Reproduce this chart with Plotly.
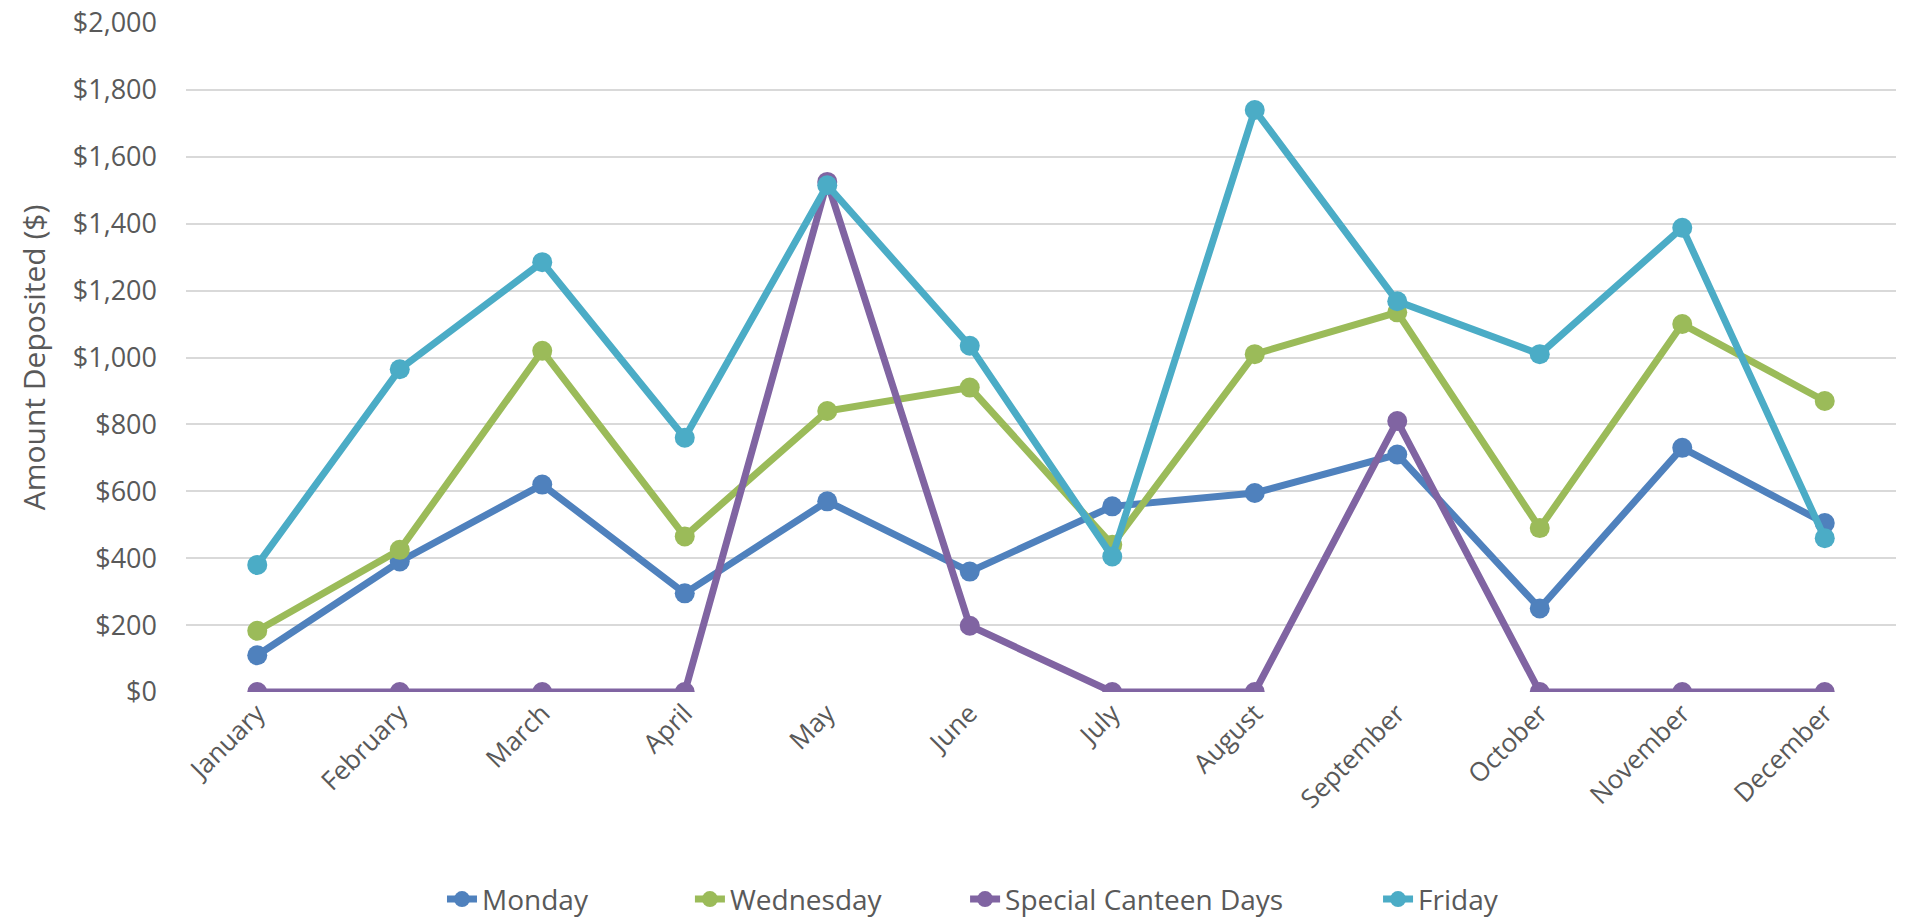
import plotly.graph_objects as go

months = ["January", "February", "March", "April", "May", "June", "July",
          "August", "September", "October", "November", "December"]
monday = [110, 390, 620, 295, 570, 360, 555, 595, 710, 250, 730, 505]
wednesday = [183, 425, 1020, 465, 840, 910, 440, 1010, 1135, 490, 1100, 870]
special = [0, 0, 0, 0, 1525, 198, 0, 0, 810, 0, 0, 0]
friday = [380, 965, 1285, 760, 1515, 1035, 405, 1740, 1168, 1010, 1388, 460]

series = [
    ("Monday", monday, "#4F81BD"),
    ("Wednesday", wednesday, "#9BBB59"),
    ("Special Canteen Days", special, "#8064A2"),
    ("Friday", friday, "#4BACC6"),
]
legend_ids = ["legend", "legend2", "legend3", "legend4"]
legend_x = [0.1497, 0.2947, 0.4556, 0.6971]

fig = go.Figure()
for (name, vals, col), lid in zip(series, legend_ids):
    fig.add_trace(go.Scatter(
        x=months, y=vals, name=name, mode="lines+markers",
        line=dict(color=col, width=7),
        marker=dict(color=col, size=20),
        legend=lid,
    ))

font_family = "Open Sans, DejaVu Sans, sans-serif"
legend_common = dict(orientation="h", xanchor="left", y=-0.31, yanchor="middle",
                     font=dict(size=28, color="#595959"), bgcolor="rgba(0,0,0,0)")
fig.update_layout(
    width=1912, height=920,
    paper_bgcolor="white", plot_bgcolor="white",
    margin=dict(l=186, r=16, t=23, b=228, autoexpand=False),
    font=dict(family=font_family, color="#595959", size=26),
    showlegend=True,
    xaxis=dict(
        type="category", range=[-0.5, 11.5], tickangle=-45, automargin=False,
        showgrid=False, showline=False, zeroline=False, ticks="",
        tickfont=dict(size=26, color="#595959"),
    ),
    yaxis=dict(
        range=[0, 2000], dtick=200, tickprefix="$", tickformat=",", automargin=False,
        showgrid=True, gridcolor="#D9D9D9", gridwidth=2,
        zeroline=False, showline=False, ticks="",
        ticklabelstandoff=28,
        tickfont=dict(size=27, color="#595959"),
        title=dict(text="Amount Deposited ($)", font=dict(size=30, color="#595959"), standoff=18),
    ),
)
for lid, lx in zip(legend_ids, legend_x):
    fig.update_layout({lid: dict(x=lx, **legend_common)})

fig.write_html("out.html")
